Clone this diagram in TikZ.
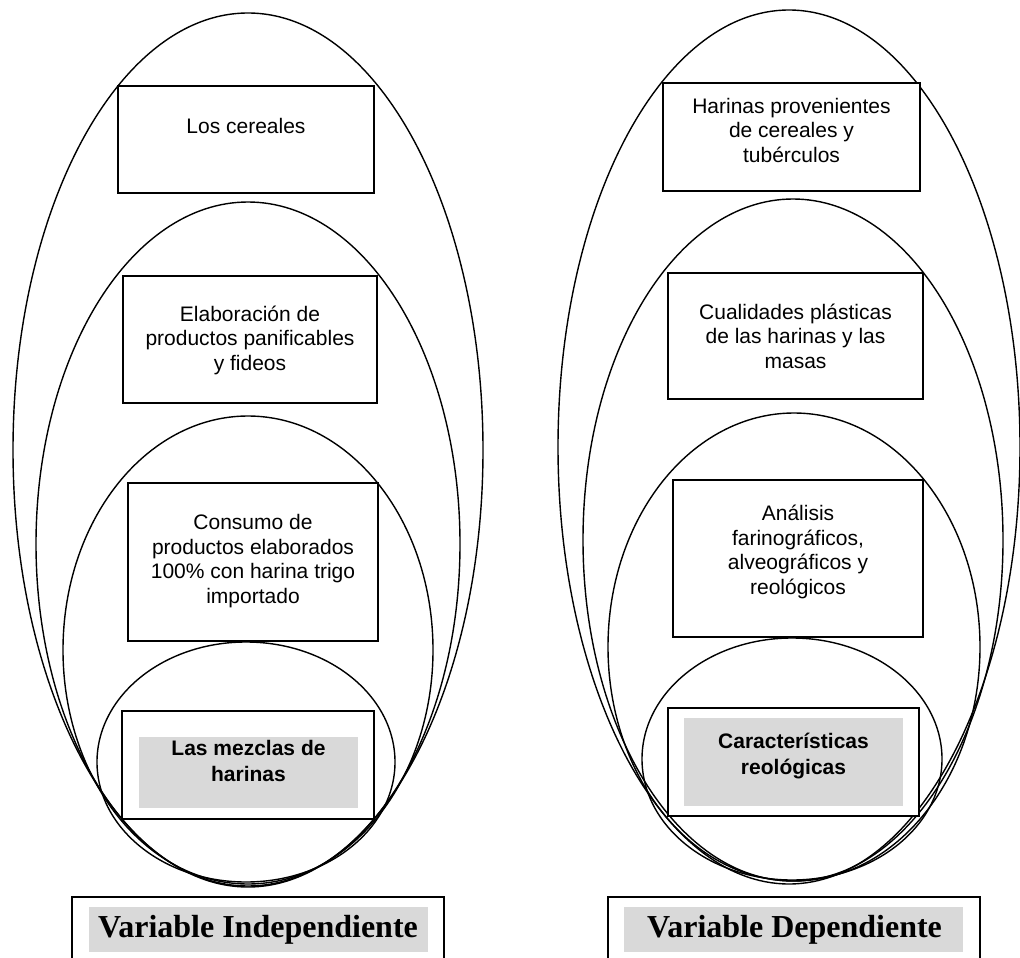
\documentclass[tikz,border=0pt]{standalone}
\usepackage{fontspec}
\setmainfont{Liberation Sans}
\newfontfamily\labelfont{Liberation Serif}
\usetikzlibrary{shapes.geometric}
\definecolor{shade}{HTML}{D9D9D9}
\begin{document}
\begin{tikzpicture}[x=1pt,y=-1pt,
  ring/.style={draw, ellipse, line width=1.4pt, inner sep=0pt},
  framebox/.style={draw, rectangle, line width=1.6pt, fill=white, inner sep=0pt},
  corebox/.style={framebox, line width=2pt},
  shadebox/.style={fill=shade, rectangle, inner sep=0pt},
  boxtext/.style={align=center, inner sep=0pt, font=\fontsize{21}{24.5}\selectfont},
  coretext/.style={align=center, inner sep=0pt, font=\bfseries\fontsize{21}{26}\selectfont},
  vartext/.style={inner sep=0pt, font=\labelfont\bfseries\fontsize{32}{36}\selectfont}]
\useasboundingbox (0,0) rectangle (1020,958);

% ---- nested ellipses, independent variable ----
\node[ring, minimum width=470, minimum height=874] (eL1) at (248,450) {};
\node[ring, minimum width=424, minimum height=684] (eL2) at (248,544) {};
\node[ring, minimum width=370, minimum height=468] (eL3) at (248,650) {};
\node[ring, minimum width=298, minimum height=240] (eL4) at (246,762) {};

% ---- nested ellipses, dependent variable ----
\node[ring, minimum width=462, minimum height=874] (eR1) at (789,447) {};
\node[ring, minimum width=420, minimum height=682] (eR2) at (793,540) {};
\node[ring, minimum width=372, minimum height=468] (eR3) at (794,647) {};
\node[ring, minimum width=300, minimum height=242] (eR4) at (792,759) {};

% ---- boxes, independent variable ----
\node[framebox, minimum width=256, minimum height=107] (bL1) at (246,139.5) {};
\node[framebox, minimum width=254, minimum height=127] (bL2) at (250,339.5) {};
\node[framebox, minimum width=250, minimum height=158] (bL3) at (253,562) {};
\node[corebox, minimum width=252, minimum height=108] (bL4) at (248,765) {};
\node[shadebox, minimum width=219, minimum height=71] (gL4) at (248.5,772.5) {};

\node[boxtext] (tL1) at (246,126) {Los cereales};
\node[boxtext] (tL2) at (250,340) {Elaboración de\\productos panificables\\y fideos};
\node[boxtext] (tL3) at (253,561) {Consumo de\\productos elaborados\\100\% con harina trigo\\importado};
\node[coretext] (tL4) at (248.5,761) {Las mezclas de\\harinas};

% ---- boxes, dependent variable ----
\node[framebox, minimum width=257, minimum height=108] (bR1) at (791.5,137) {};
\node[framebox, minimum width=255, minimum height=126] (bR2) at (795.5,336) {};
\node[framebox, minimum width=250, minimum height=157] (bR3) at (798,558.5) {};
\node[corebox, minimum width=251, minimum height=108] (bR4) at (793.5,762) {};
\node[shadebox, minimum width=219, minimum height=88] (gR4) at (793.5,762) {};

\node[boxtext] (tR1) at (791.5,130) {Harinas provenientes\\de cereales y\\tubérculos};
\node[boxtext] (tR2) at (795.5,336) {Cualidades plásticas\\de las harinas y las\\masas};
\node[boxtext] (tR3) at (798,552) {Análisis\\farinográficos,\\alveográficos y\\reológicos};
\node[coretext] (tR4) at (793.5,756) {Características\\reológicas};

% ---- variable captions ----
\node[framebox, minimum width=372, minimum height=78] (vL) at (258,936) {};
\node[shadebox, minimum width=339, minimum height=45] (gvL) at (258.5,929.5) {};
\node[vartext] (tvL) at (258,929.5) {Variable Independiente};

\node[framebox, minimum width=372, minimum height=78] (vR) at (794,936) {};
\node[shadebox, minimum width=339, minimum height=45] (gvR) at (793.5,929.5) {};
\node[vartext] (tvR) at (794.5,929.5) {Variable Dependiente};
\end{tikzpicture}
\end{document}
